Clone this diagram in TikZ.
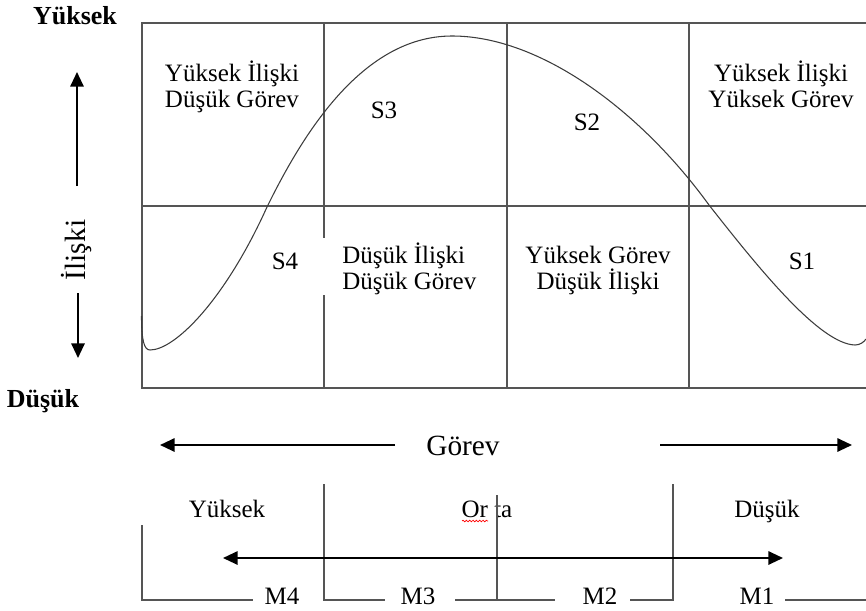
\documentclass[tikz,border=0pt]{standalone}
\usepackage{fontspec}
\setmainfont{Liberation Serif}
\usetikzlibrary{arrows.meta,decorations.pathmorphing}
\definecolor{gridc}{RGB}{85,85,85}
\definecolor{curvec}{RGB}{60,60,60}
\begin{document}
\begin{tikzpicture}[x=0.75pt,y=-0.75pt,
  gridline/.style={draw=gridc,line width=1.5pt},
  bracket/.style={draw=gridc,line width=1.3pt},
  curveline/.style={draw=curvec,line width=0.8pt},
  arr/.style={draw=black,line width=1.5pt,-{Triangle[length=11pt,width=10pt]}},
  darr/.style={draw=black,line width=1.5pt,{Triangle[length=11pt,width=10pt]}-{Triangle[length=11pt,width=10pt]}},
  txt/.style={inner sep=0pt,font=\fontsize{18.75}{19.5}\selectfont},
  big/.style={inner sep=0pt,font=\fontsize{22}{24}\selectfont},
  boldtxt/.style={inner sep=0pt,font=\fontsize{19.5}{20}\selectfont\bfseries},
  wavy/.style={draw=red,line width=0.5pt,decorate,decoration={snake,amplitude=0.6pt,segment length=2.5pt}}
  ]
\useasboundingbox (0,0) rectangle (866,610);

% grid
\draw[gridline] (866,23) -- (142,23) -- (142,388) -- (866,388);
\draw[gridline] (142,206) -- (866,206);
\draw[gridline] (324,23) -- (324,238) (324,295) -- (324,388);
\draw[gridline] (507,23) -- (507,388);
\draw[gridline] (689,23) -- (689,388);

% curve
\draw[curveline] (141.5,316) .. controls (141.5,340) and (144,350) .. (150,350)
  .. controls (175,350) and (225,300) .. (267,207)
  .. controls (300,140) and (360,36) .. (452,36)
  .. controls (540,36) and (640,110) .. (709,205)
  .. controls (760,270) and (820,344) .. (855,345)
  .. controls (860,345) and (864,342) .. (866,339);

% left axis
\node[boldtxt,anchor=base] (hi) at (75,25) {Yüksek};
\node[boldtxt,anchor=base] (lo) at (43,407) {Düşük};
\node[big,rotate=90] (iliski) at (77,250) {İlişki};
\coordinate (upS) at (77,186);
\coordinate (upT) at (77,72);
\coordinate (dnS) at (78,293);
\coordinate (dnT) at (78,358);
\draw[arr] (upS) -- (upT);
\draw[arr] (dnS) -- (dnT);

% quadrant texts
\node[txt,align=center] (q1) at (232,86.5) {Yüksek İlişki\\Düşük Görev};
\node[txt,align=center] (q2) at (781,84) {Yüksek İlişki\\Yüksek Görev};
\node[txt,align=left,anchor=west] (q3) at (342,268.5) {Düşük İlişki\\Düşük Görev};
\node[txt,align=center] (q4) at (598,270.5) {Yüksek Görev\\Düşük İlişki};

\node[txt,anchor=base] (s3) at (384,118) {S3};
\node[txt,anchor=base] (s2) at (587,130) {S2};
\node[txt,anchor=base] (s4) at (285,269) {S4};
\node[txt,anchor=base] (s1) at (802,269) {S1};

% Gorev axis
\node[big,anchor=base] (gorev) at (463,455) {Görev};
\coordinate (gLS) at (395,445);
\coordinate (gLT) at (160,445);
\coordinate (gRS) at (660,445);
\coordinate (gRT) at (852,445);
\draw[arr] (gLS) -- (gLT);
\draw[arr] (gRS) -- (gRT);

% bottom scale
\node[txt,anchor=base] (byuk) at (227,517) {Yüksek};
\node[txt,anchor=base] (orta) at (487,517) {Or ta};
\node[txt,anchor=base] (bdus) at (767,517) {Düşük};
\draw[wavy] (462,521) -- (488,521);

\node[txt,anchor=base] (m4) at (282,604) {M4};
\node[txt,anchor=base] (m3) at (418,604) {M3};
\node[txt,anchor=base] (m2) at (600,604) {M2};
\node[txt,anchor=base] (m1) at (757,604) {M1};

\draw[bracket] (142,525) -- (142,600) -- (253,600);
\draw[bracket] (324,484) -- (324,600) -- (385,600);
\draw[bracket] (455,600) -- (555,600);
\draw[bracket] (497,495) -- (497,600);
\draw[bracket] (630,600) -- (673,600) -- (673,484);
\draw[bracket] (785,600) -- (866,600);

\coordinate (bL) at (223,558);
\coordinate (bR) at (783,558);
\draw[darr] (bL) -- (bR);
\end{tikzpicture}
\end{document}
